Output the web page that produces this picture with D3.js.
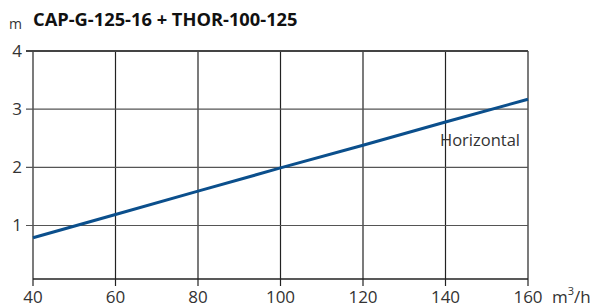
<!DOCTYPE html>
<html>
<head>
<meta charset="utf-8">
<script src="https://cdn.jsdelivr.net/npm/d3@7"></script>
<style>
  body { margin: 0; background: #fff; }
  text { font-family: "Open Sans", "Noto Sans", sans-serif; }
</style>
</head>
<body>
<svg id="chart" width="597" height="307"></svg>
<script>
const flow = [40, 60, 80, 100, 120, 140, 160];
const head = [0.79, 1.19, 1.59, 1.99, 2.38, 2.78, 3.17];
const xTicks = [40, 60, 80, 100, 120, 140, 160];
const yTicks = [1, 2, 3, 4];
const title = 'CAP-G-125-16 + THOR-100-125';
const curveLabel = 'Horizontal';

const margin = { left: 33, right: 69, top: 51, bottom: 28 };
const width = 597, height = 307;

const x = d3.scaleLinear().domain([40, 160]).range([margin.left, width - margin.right]);
const y = d3.scaleLinear().domain([0.08, 4]).range([height - margin.bottom, margin.top]);

const svg = d3.select('#chart');

// grid
svg.append('g')
    .selectAll('line')
    .data(xTicks)
    .enter()
    .append('line')
    .attr('x1', d => x(d)).attr('x2', d => x(d))
    .attr('y1', y(4)).attr('y2', y(0.08) + 7)
    .attr('stroke', '#222')
    .attr('stroke-width', 1.2);

svg.append('g')
    .selectAll('line')
    .data(yTicks)
    .enter()
    .append('line')
    .attr('x1', x(40) - 7).attr('x2', x(160))
    .attr('y1', d => y(d)).attr('y2', d => y(d))
    .attr('stroke', d => d === 4 ? '#444' : '#555')
    .attr('stroke-width', d => d === 4 ? 1.8 : 1.2);

svg.append('line')
    .attr('x1', x(40)).attr('x2', x(160))
    .attr('y1', y(0.08)).attr('y2', y(0.08))
    .attr('stroke', '#222')
    .attr('stroke-width', 1.4);

// tick labels
svg.append('g')
    .selectAll('text')
    .data(xTicks)
    .enter()
    .append('text')
    .attr('x', d => x(d))
    .attr('y', 303)
    .attr('text-anchor', 'middle')
    .attr('font-size', 17)
    .attr('fill', '#333')
    .text(d => d);

svg.append('g')
    .selectAll('text')
    .data(yTicks)
    .enter()
    .append('text')
    .attr('x', 22)
    .attr('y', d => y(d) + 6)
    .attr('text-anchor', 'end')
    .attr('font-size', 17)
    .attr('fill', '#333')
    .text(d => d);

// units
svg.append('text')
    .attr('x', 9).attr('y', 29)
    .attr('font-size', 14).attr('fill', '#333')
    .text('m');

const unit = svg.append('text')
    .attr('x', 552).attr('y', 303)
    .attr('font-size', 17).attr('fill', '#333');
unit.append('tspan').text('m');
unit.append('tspan').attr('font-size', 11).attr('dy', -8).text('3');
unit.append('tspan').attr('dy', 8).text('/h');

// title
svg.append('text')
    .attr('x', 33).attr('y', 26)
    .attr('font-size', 18.3).attr('font-weight', 'bold').attr('fill', '#111')
    .text(title);

// curve
const line = d3.line().x((d, i) => x(flow[i])).y(d => y(d));
svg.append('path')
    .datum(head)
    .attr('d', line)
    .attr('fill', 'none')
    .attr('stroke', '#0b4f8c')
    .attr('stroke-width', 3);

svg.append('text')
    .attr('x', 440).attr('y', 146)
    .attr('font-size', 16.5).attr('fill', '#333')
    .text(curveLabel);
</script>
</body>
</html>
